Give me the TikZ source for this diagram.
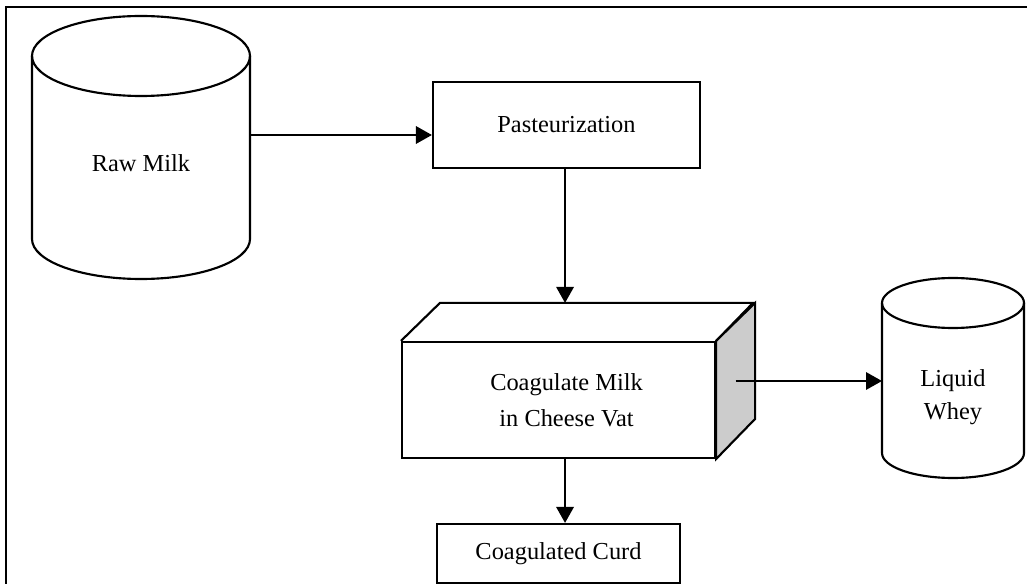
\documentclass[tikz,border=0pt]{standalone}
\usepackage{fontspec}
\setmainfont{Liberation Serif}
\usetikzlibrary{arrows.meta,positioning,calc}

\tikzset{every picture/.style={line width=1.6pt}}
\tikzset{
  stage/.style={draw, rectangle, inner sep=0.75pt, align=center, font=\fontsize{18.3}{27}\selectfont},
  tanktext/.style={inner sep=0.75pt, align=center, font=\fontsize{18.3}{25}\selectfont},
  flow/.style={line width=1.7pt, -{Triangle[length=12pt,width=13pt]}}
}

\begin{document}
\begin{tikzpicture}[x=0.75pt,y=0.75pt,yscale=-1,xscale=1]
\useasboundingbox (0,0) rectangle (1027,584);

%Frame
\draw [line width=1.4pt] (6,590) -- (6,7) -- (1030,7) ;

%Shape: Can [raw milk]
\draw (32,56) -- (32,239) arc[start angle=180,end angle=0,x radius=109,y radius=40] -- (250,56) ;
\draw (141,56) ellipse [x radius=109,y radius=40] ;
\coordinate (raw-e) at (250,135) ;
% Text Node
\node [tanktext] (raw) at (141,163) {Raw Milk};

%Shape: Can [whey]
\draw (882,303) -- (882,453) arc[start angle=180,end angle=0,x radius=71,y radius=25] -- (1024,303) ;
\draw (953,303) ellipse [x radius=71,y radius=25] ;
\coordinate (whey-w) at (882,303) ;
% Text Node
\node [tanktext] (whey) at (953,397) {Liquid\\Whey};

% Process boxes
\node [stage, minimum width=200.25pt, minimum height=64.5pt] (past) at (566.5,125) {Pasteurization};
\node [stage, minimum width=234.75pt, minimum height=87pt] (vat) at (558.5,400) {\hspace*{12pt}Coagulate Milk\\\hspace*{12pt}in Cheese Vat};
\node [stage, minimum width=182.25pt, minimum height=44.25pt] (curd) at (558.5,553.5) {Coagulated Curd};

%Shape: Cube [vat]
\coordinate (vat-back) at ($(vat.north west)+(39,-38)$) ;
\draw (vat.north west) -- (vat-back) -- ++(313,0) -- (vat.north east) ;
\draw [fill=gray!40] (vat.north east) -- ++(39,-38) -- ++(0,116) -- (vat.south east) -- cycle ;
\coordinate (vat-side) at ($(vat.east)+(19.5,-19)$) ;

%Straight Lines
\draw [flow] (raw-e) -- (raw-e -| past.west) ;
\draw [flow] ([xshift=-1.1pt]past.south) -- ([xshift=-1.1pt]past.south |- vat-back) ;
\draw [flow] (vat-side) -- (vat-side -| whey-w) ;
\draw [flow] ([xshift=4.9pt]vat.south) -- ([xshift=4.9pt]curd.north) ;

\end{tikzpicture}
\end{document}
